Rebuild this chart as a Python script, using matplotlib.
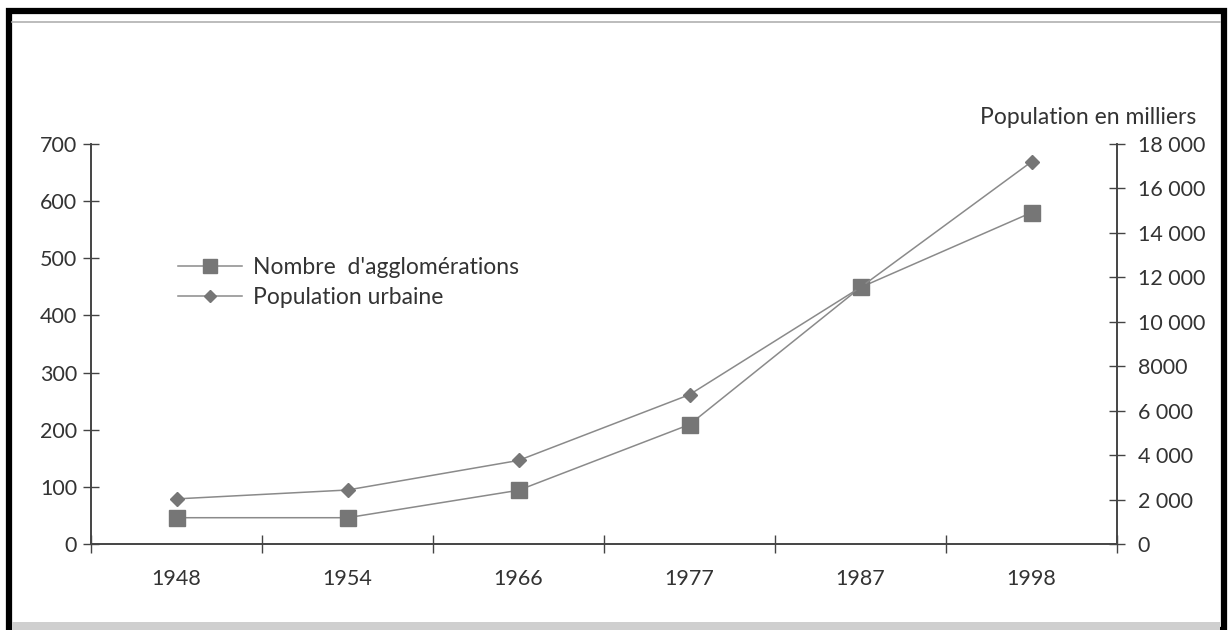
import matplotlib.pyplot as plt
from matplotlib.lines import Line2D
from matplotlib.patches import Rectangle

# Données
annees = ['1948', '1954', '1966', '1977', '1987', '1998']
nb_agglomerations = [46, 46, 94, 209, 449, 580]
pop_urbaine = [2030, 2430, 3760, 6720, 11550, 17200]  # en milliers

gauche_ticks = [0, 100, 200, 300, 400, 500, 600, 700]
droite_ticks = [0, 2000, 4000, 6000, 8000, 10000, 12000, 14000, 16000, 18000]
droite_labels = ['0', '2 000', '4 000', '6 000', '8000', '10 000',
                 '12 000', '14 000', '16 000', '18 000']

plt.rcParams['font.family'] = ['Lato', 'DejaVu Sans']
txt = '#333333'
axe = '#444444'
gris_ligne = '#8a8a8a'
gris_marq = '#767676'

fig = plt.figure(figsize=(12.3, 6.3), dpi=100)
ax = fig.add_axes([91 / 1230, 86 / 630, 1026 / 1230, 400 / 630])
ax2 = ax.twinx()

x = list(range(len(annees)))

ax.plot(x, nb_agglomerations, color=gris_ligne, lw=1.1, marker='s',
        markersize=11, markerfacecolor=gris_marq, markeredgecolor=gris_marq, zorder=3)
ax2.plot(x, pop_urbaine, color=gris_ligne, lw=1.1, marker='D',
         markersize=7, markerfacecolor=gris_marq, markeredgecolor=gris_marq, zorder=3)

ax.set_xlim(-0.5, len(annees) - 0.5)
ax.set_ylim(0, 700)
ax2.set_ylim(0, 18000)

# axe x : traits aux séparations, libellés au centre
ax.set_xticks([i - 0.5 for i in range(len(annees) + 1)])
ax.set_xticklabels([])
ax.set_xticks(x, minor=True)
ax.set_xticklabels(annees, minor=True)
ax.tick_params(axis='x', which='major', direction='inout', length=13, width=1, color=axe)
ax.tick_params(axis='x', which='minor', length=0, pad=18, labelsize=15.5, labelcolor=txt)

ax.set_yticks(gauche_ticks)
ax.tick_params(axis='y', direction='inout', length=12, width=1, color=axe,
               pad=4, labelsize=15.5, labelcolor=txt)

ax2.set_yticks(droite_ticks)
ax2.set_yticklabels(droite_labels)
ax2.tick_params(axis='y', direction='inout', length=12, width=1, color=axe,
                pad=9, labelsize=15.5, labelcolor=txt)

for a in (ax, ax2):
    a.spines['top'].set_visible(False)
    for s in ('left', 'right', 'bottom'):
        a.spines[s].set_color(axe)
        a.spines[s].set_linewidth(1.2)

ax2.text(1.0775, 1.067, 'Population en milliers', transform=ax.transAxes,
         ha='right', va='center', fontsize=16.5, color=txt)

# Légende
poignees = [
    Line2D([], [], color=gris_ligne, lw=1.1, marker='s', markersize=10,
           markerfacecolor=gris_marq, markeredgecolor=gris_marq),
    Line2D([], [], color=gris_ligne, lw=1.1, marker='D', markersize=6,
           markerfacecolor=gris_marq, markeredgecolor=gris_marq),
]
ax.legend(poignees, ["Nombre  d'agglomérations", 'Population urbaine'],
          loc='upper left', bbox_to_anchor=(0.065, 0.77), frameon=False,
          fontsize=16.5, labelcolor=txt, handlelength=2.8, handletextpad=0.45,
          labelspacing=0.4)

# Cadre
fig.patches.append(Rectangle((9 / 1230, 0), 1215 / 1230, 619 / 630,
                             transform=fig.transFigure, fill=False,
                             edgecolor='black', lw=4.5))
fig.patches.append(Rectangle((12 / 1230, 0), 1208 / 1230, 8 / 630,
                             transform=fig.transFigure, facecolor='#cfcfcf',
                             edgecolor='none'))
fig.lines.append(Line2D([12 / 1230, 1220 / 1230], [608 / 630, 608 / 630],
                        transform=fig.transFigure, color='#b0b0b0', lw=1.2))

fig.savefig('out.png', dpi=100)
